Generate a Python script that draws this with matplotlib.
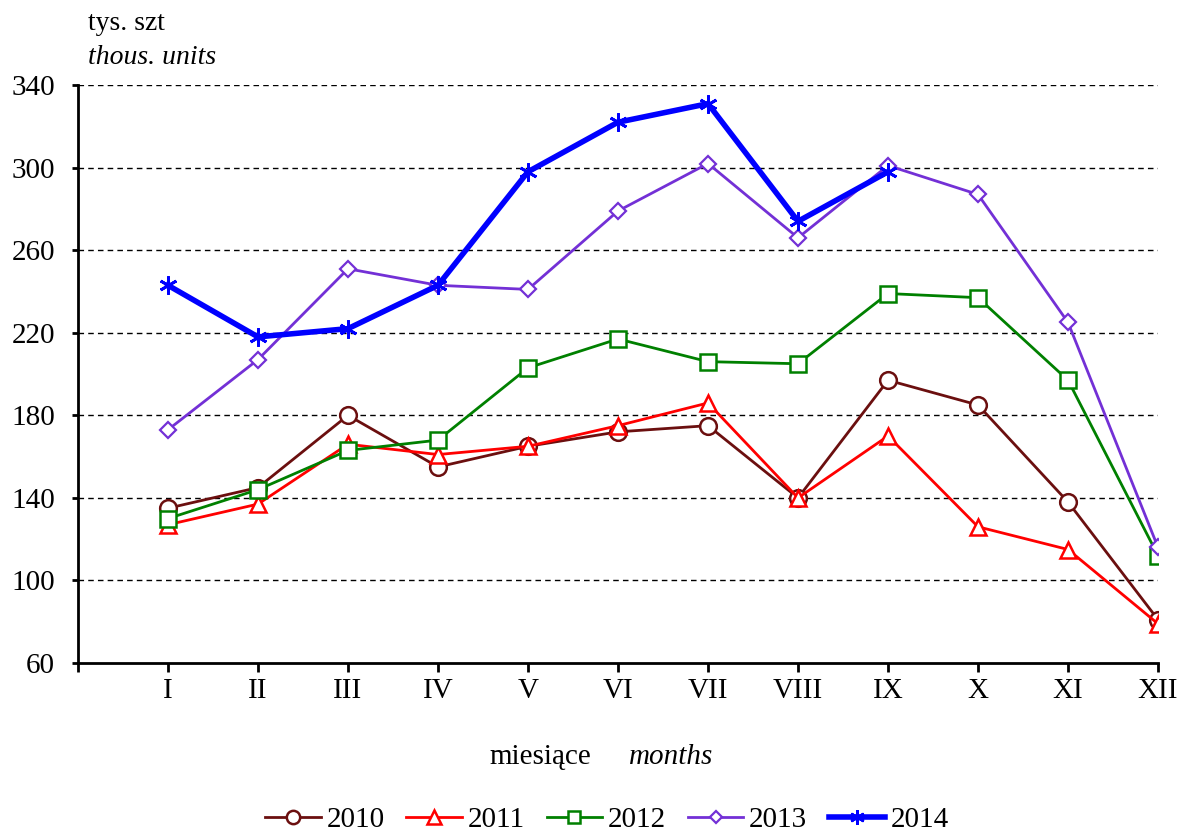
import numpy as np
import matplotlib.pyplot as plt

plt.rcParams['font.family'] = ['Liberation Serif', 'DejaVu Serif']

months = ["I", "II", "III", "IV", "V", "VI", "VII", "VIII", "IX", "X", "XI", "XII"]
y2010 = [135, 145, 180, 155, 165, 172, 175, 140, 197, 185, 138, 81]
y2011 = [127, 137, 166, 161, 165, 175, 186, 140, 170, 126, 115, 79]
y2012 = [130, 144, 163, 168, 203, 217, 206, 205, 239, 237, 197, 112]
y2013 = [173, 207, 251, 243, 241, 279, 302, 266, 301, 287, 225, 116]
y2014 = [243, 218, 222, 243, 298, 322, 331, 274, 298]

fig = plt.figure(figsize=(11.83, 8.34), dpi=100)
ax = fig.add_axes([0.0659, 0.205, 0.913, 0.693])

x = np.arange(1, 13)
ax.plot(x, y2010, color="#6B0F0F", lw=2, marker="o", ms=12, mfc="white", mew=1.8, label="2010")
ax.plot(x, y2011, color="#FF0000", lw=2, marker="^", ms=12, mfc="white", mew=1.8, label="2011")
ax.plot(x, y2012, color="#008000", lw=2, marker="s", ms=11, mfc="white", mew=1.8, label="2012")
ax.plot(x, y2013, color="#7330D6", lw=2, marker="D", ms=8, mfc="white", mew=1.6, label="2013")
ax.plot(x[:len(y2014)], y2014, color="#0000FF", lw=4, marker=(6, 2, 0), ms=13, mew=2, label="2014")

ax.set_xlim(0, 12)
ax.set_ylim(60, 340)
ax.set_yticks(range(60, 341, 40))
ax.set_xticks(range(0, 13))
ax.set_xticklabels([""] + months)
ax.tick_params(axis="x", direction="out", length=6.5, width=2, labelsize=21, pad=4)
ax.tick_params(axis="y", direction="out", length=4.5, width=2, labelsize=21, pad=12)

for v in range(100, 341, 40):
    ax.axhline(v, color="black", lw=1, ls=(0, (4, 3)), zorder=0)

for s in ["top", "right"]:
    ax.spines[s].set_visible(False)
for s in ["left", "bottom"]:
    ax.spines[s].set_linewidth(2)

fig.text(0.074, 0.972, "tys. szt", fontsize=20, ha="left", va="center")
fig.text(0.074, 0.931, "thous. units", fontsize=20, style="italic", ha="left", va="center")

fig.text(0.5, 0.092, "miesiące", fontsize=21, ha="right", va="center")
fig.text(0.532, 0.092, "months", fontsize=21, style="italic", ha="left", va="center")

fig.legend(loc="center", bbox_to_anchor=(0.513, 0.017), ncol=5, frameon=False,
           fontsize=21, handlelength=1.9, handletextpad=0.2, columnspacing=0.75,
           markerscale=0.8)

fig.savefig("out.png", dpi=100)
